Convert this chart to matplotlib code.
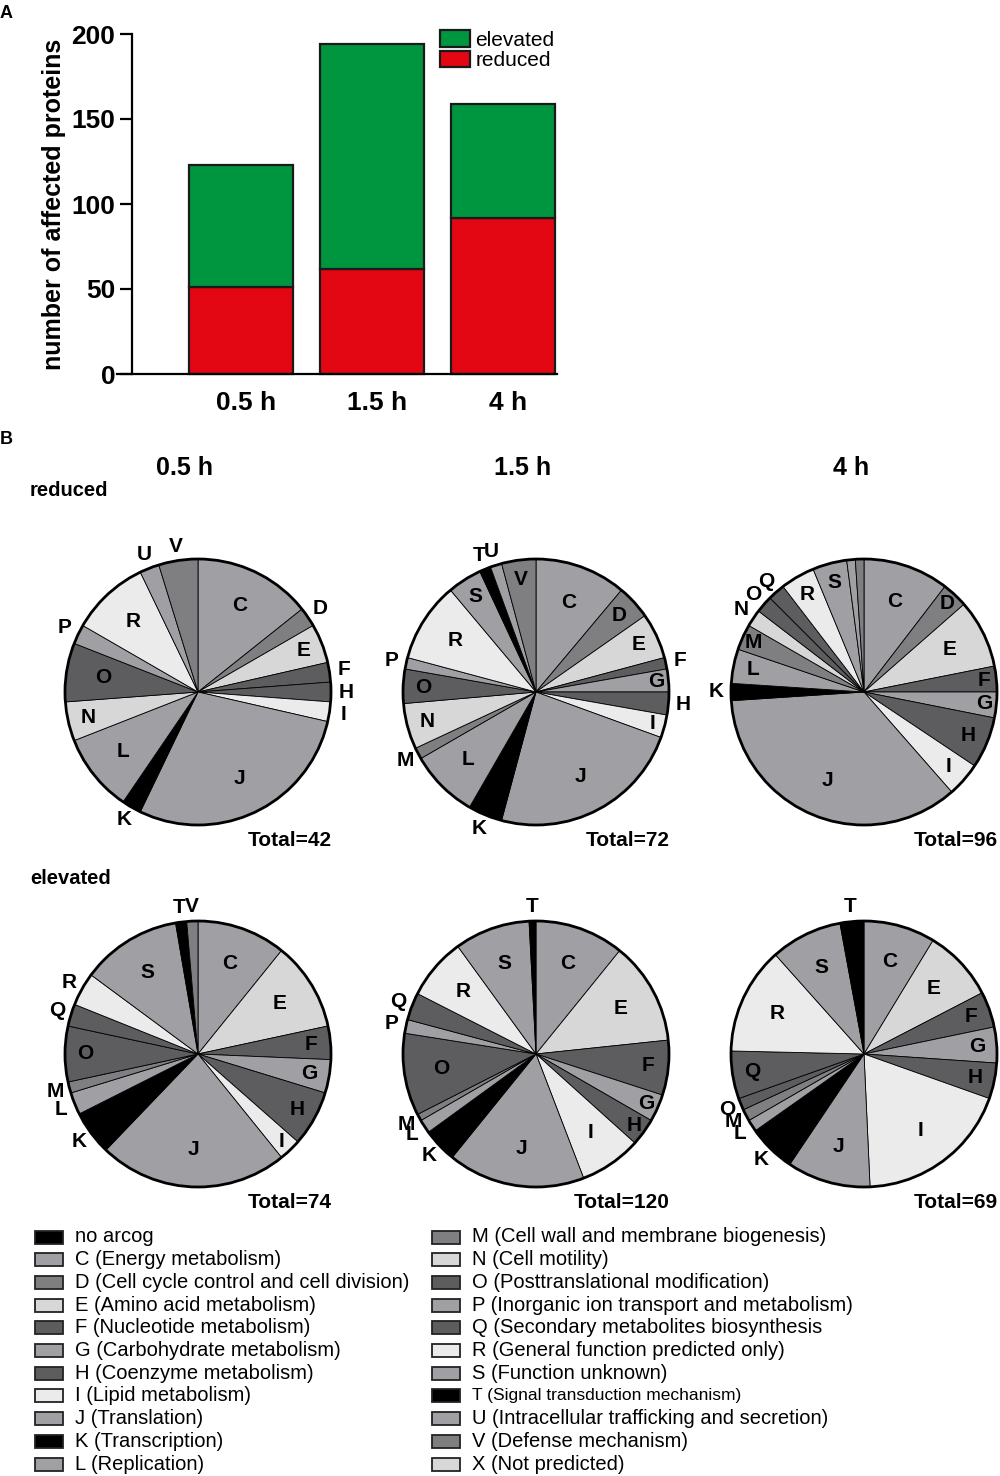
import numpy as np
import matplotlib
matplotlib.use("Agg")
import matplotlib.pyplot as plt
from matplotlib.patches import Rectangle, Circle

plt.rcParams['font.family'] = ['Liberation Sans', 'DejaVu Sans']

# ---- panel A: number of affected proteins
times = ["0.5 h", "1.5 h", "4 h"]
reduced_n = [51, 62, 92]
elevated_n = [72, 132, 67]

# ---- panel B: arCOG categories per time point (clockwise from 12 o'clock)
arcogs = list("CDEFGHIJKLMNOPQRSTUV")
red_05 = [6, 1, 2, 1, 0, 1, 1, 12, 1, 4, 0, 2, 3, 1, 0, 4, 0, 0, 1, 2]
red_15 = [8, 3, 4, 1, 2, 2, 2, 17, 3, 6, 1, 4, 3, 1, 0, 7, 3, 1, 1, 3]
red_4 = [10, 3, 8, 3, 3, 6, 4, 34, 2, 4, 3, 2, 2, 0, 2, 4, 4, 0, 1, 1]
elev_05 = [8, 0, 8, 3, 3, 5, 2, 17, 4, 2, 1, 0, 5, 0, 2, 3, 9, 1, 0, 1]
elev_15 = [13, 0, 15, 8, 4, 4, 9, 20, 5, 2, 1, 0, 12, 2, 4, 9, 11, 1, 0, 0]
elev_4 = [6, 0, 6, 3, 3, 3, 13, 7, 4, 1, 1, 0, 1, 0, 4, 9, 6, 2, 0, 0]

legend_left = ["no arcog", "C (Energy metabolism)", "D (Cell cycle control and cell division)",
               "E (Amino acid metabolism)", "F (Nucleotide metabolism)",
               "G (Carbohydrate metabolism)", "H (Coenzyme metabolism)",
               "I (Lipid metabolism)", "J (Translation)", "K (Transcription)",
               "L (Replication)"]
legend_right = ["M (Cell wall and membrane biogenesis)", "N (Cell motility)",
                "O (Posttranslational modification)",
                "P (Inorganic ion transport and metabolism)",
                "Q (Secondary metabolites biosynthesis", "R (General function predicted only)",
                "S (Function unknown)", "T (Signal transduction mechanism)",
                "U (Intracellular trafficking and secretion)", "V (Defense mechanism)",
                "X (Not predicted)"]

# grey shades
G_MID = '#a0a0a4'
G_DARK = '#7f7f82'
G_LIGHT = '#d7d7d7'
G_DDARK = '#5d5d5f'
G_PALE = '#ebebeb'
shade = {'no arcog': 'black', 'C': G_MID, 'D': G_DARK, 'E': G_LIGHT, 'F': G_DDARK,
         'G': G_MID, 'H': G_DDARK, 'I': G_PALE, 'J': G_MID, 'K': 'black', 'L': G_MID,
         'M': G_DARK, 'N': G_LIGHT, 'O': G_DDARK, 'P': G_MID, 'Q': G_DDARK, 'R': G_PALE,
         'S': G_MID, 'T': 'black', 'U': G_MID, 'V': G_DARK, 'X': G_LIGHT}

W, H = 1000, 1476
fig = plt.figure(figsize=(W / 100, H / 100), dpi=100)

# ---------------- panel A
axA = fig.add_axes([0.132, 1 - 374 / H, 0.425, 340 / H])
x = np.arange(1, len(times) + 1)
b_red = axA.bar(x, reduced_n, width=0.79, color='#e30613', edgecolor='#1a1a1a',
                linewidth=1.6, label='reduced', clip_on=False)
b_green = axA.bar(x, elevated_n, bottom=reduced_n, width=0.79, color='#00963f',
                  edgecolor='#1a1a1a', linewidth=1.6, label='elevated', clip_on=False)
axA.set_xlim(0.168, 3.41)
axA.set_ylim(0, 200)
axA.set_yticks([0, 50, 100, 150, 200])
axA.set_xticks(x + 0.04)
axA.set_xticklabels(times, fontsize=19, fontweight='bold')
axA.tick_params(axis='x', length=0, pad=12)
axA.tick_params(axis='y', length=9, width=1.6, pad=3, labelsize=19)
for lab in axA.get_yticklabels():
    lab.set_fontweight('bold')
axA.spines['top'].set_visible(False)
axA.spines['right'].set_visible(False)
axA.spines['left'].set_linewidth(1.6)
axA.spines['bottom'].set_linewidth(1.6)
axA.spines['bottom'].set_bounds(0.05, 3.41)
axA.set_ylabel('number of affected proteins', fontsize=18, fontweight='bold', labelpad=4)
axA.legend(handles=[b_green, b_red], frameon=False, fontsize=15, loc='upper left',
           bbox_to_anchor=(440 / W, 1 - 30 / H), bbox_transform=fig.transFigure,
           handlelength=1.45, handleheight=0.85, labelspacing=0.05, handletextpad=0.25,
           borderaxespad=0, borderpad=0)

# ---------------- panel B pies
pie_cx = [198, 536, 864]
row_cy = [692, 1054]
R = 133
F = 1.35
pies = [[red_05, red_15, red_4], [elev_05, elev_15, elev_4]]
hidden = {(0, 2): ('U', 'V')}
# a few labels sit outside the rim in the original although their slice is wide enough
force_out = {(0, 0): ('V',), (1, 0): ('L', 'Q', 'R'), (0, 1): ('H',), (1, 1): ('Q',)}
force_rim = {(0, 1): ('I',)}


def draw_pie(ax, counts, hide=(), outside=(), rim=()):
    letters = [c for c, n in zip(arcogs, counts) if n > 0]
    vals = [n for n in counts if n > 0]
    wedges, _ = ax.pie(vals, colors=[shade[c] for c in letters], startangle=90,
                       counterclock=False, radius=1,
                       wedgeprops=dict(edgecolor='black', linewidth=0.6))
    for w, c in zip(wedges, letters):
        if c in hide:
            continue
        span = w.theta2 - w.theta1
        mid = np.deg2rad((w.theta1 + w.theta2) / 2)
        if shade[c] == 'black' or c in outside or (span < 9.6 and c not in rim):
            rr = 1.11
        elif span < 13 or c in rim:
            rr = 0.91
        elif span < 25:
            rr = 0.85
        else:
            rr = 0.72
        ax.text(rr * np.cos(mid), rr * np.sin(mid), c, ha='center', va='center',
                fontsize=15, fontweight='bold', clip_on=False)
    ax.add_patch(Circle((0, 0), 1, fill=False, lw=2, edgecolor='black'))
    ax.set_xlim(-F, F)
    ax.set_ylim(-F, F)
    ax.axis('off')


for i, cy in enumerate(row_cy):
    for j, cx in enumerate(pie_cx):
        ax = fig.add_axes([(cx - R * F) / W, 1 - (cy + R * F) / H, 2 * R * F / W, 2 * R * F / H])
        draw_pie(ax, pies[i][j], hidden.get((i, j), ()), force_out.get((i, j), ()),
                 force_rim.get((i, j), ()))

# ---------------- overlay for text and legend
ov = fig.add_axes([0, 0, 1, 1])
ov.set_xlim(0, W)
ov.set_ylim(H, 0)
ov.axis('off')

ov.text(0, 14, 'A', fontsize=13, fontweight='bold', va='center', ha='left')
ov.text(0, 440, 'B', fontsize=13, fontweight='bold', va='center', ha='left')
for cx, t in zip(pie_cx, times):
    ov.text(cx - 13, 468, t, fontsize=18, fontweight='bold', ha='center', va='center')
ov.text(30, 491, 'reduced', fontsize=14.5, fontweight='bold', ha='left', va='center')
ov.text(30, 878, 'elevated', fontsize=14.5, fontweight='bold', ha='left', va='center')

for i, cy in enumerate(row_cy):
    for j, cx in enumerate(pie_cx):
        ov.text(cx + 134, cy + 148, 'Total=%d' % sum(pies[i][j]), fontsize=15,
                fontweight='bold', ha='right', va='center')

# category legend
for col, (labels, px) in enumerate([(legend_left, 35), (legend_right, 432)]):
    for k, lab in enumerate(labels):
        y = 1237 + k * 22.7
        key = lab if lab == 'no arcog' else lab[0]
        ov.add_patch(Rectangle((px, y - 6.5), 28, 13, facecolor=shade[key],
                               edgecolor='#222222', linewidth=1.3))
        fs = 12.5 if key == 'T' else 14.5
        ov.text(px + 40, y, lab, fontsize=fs, ha='left', va='center')

fig.savefig('out.png', dpi=100)
